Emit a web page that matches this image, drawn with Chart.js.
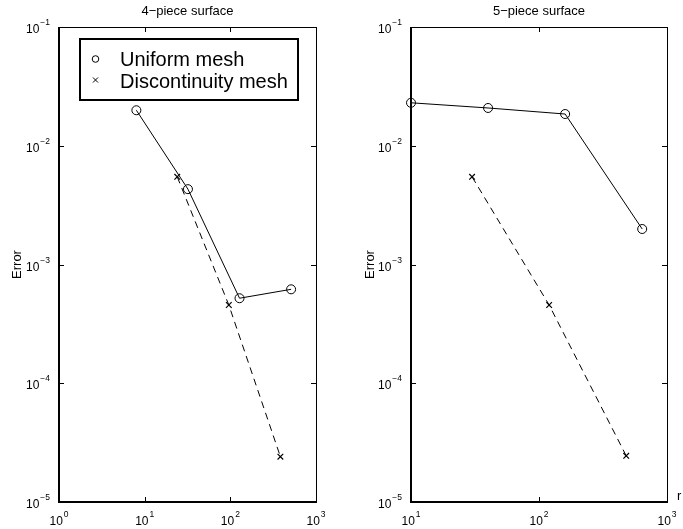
<!DOCTYPE html>
<html>
<head>
<meta charset="utf-8">
<script src="https://cdn.jsdelivr.net/npm/chart.js@4/dist/chart.umd.min.js"></script>
<style>
  body { margin: 0; background: #fff; }
  #wrap { position: relative; width: 683px; height: 529px; }
  canvas { position: absolute; top: 0; }
</style>
</head>
<body>
<div id="wrap">
  <canvas id="left" width="340" height="529" style="left:0"></canvas>
  <canvas id="right" width="343" height="529" style="left:340px"></canvas>
</div>
<script>
// Data
const leftTitle = '4\u2212piece surface';
const rightTitle = '5\u2212piece surface';
const seriesNames = ['Uniform mesh', 'Discontinuity mesh'];

const leftUniformX = [8, 32, 128, 512];
const leftUniformY = [0.0199, 0.00431, 0.00052, 0.000618];
const leftDiscX = [24, 96, 384];
const leftDiscY = [0.00547, 0.000456, 0.0000241];

const rightUniformX = [10, 40, 160, 640];
const rightUniformY = [0.0230, 0.0208, 0.0185, 0.00199];
const rightDiscX = [30, 120, 480];
const rightDiscY = [0.00547, 0.000456, 0.0000245];

const leftXTicks = [1, 10, 100, 1000];
const rightXTicks = [10, 100, 1000];
const yTicks = [1e-5, 1e-4, 1e-3, 1e-2, 1e-1];

const FONT = '"Liberation Sans", Arial, Helvetica, sans-serif';

function toPoints(xs, ys) {
  return xs.map((x, i) => ({ x: x, y: ys[i] }));
}

// draw "10" with a raised exponent
function powLabel(ctx, exp, x, y, mode) {
  const base = '10';
  const sup = exp < 0 ? '\u2212' + Math.abs(exp) : String(exp);
  ctx.font = '12px ' + FONT;
  const wb = ctx.measureText(base).width;
  ctx.font = '8.5px ' + FONT;
  const ws = ctx.measureText(sup).width;
  let x0;
  if (mode === 'right') x0 = x - wb - ws - 1;
  else x0 = x - (wb + ws + 1) / 2;
  ctx.textAlign = 'left';
  ctx.textBaseline = 'alphabetic';
  ctx.font = '12px ' + FONT;
  ctx.fillText(base, x0, y);
  ctx.font = '8.5px ' + FONT;
  ctx.fillText(sup, x0 + wb + 1, y - 8);
}

// MATLAB-like axes box, inward ticks and labels
const frame = {
  id: 'frame',
  afterDraw(chart, args, opts) {
    const ctx = chart.ctx;
    const a = chart.chartArea;
    const xs = chart.scales.x;
    const ys = chart.scales.y;
    ctx.save();
    ctx.strokeStyle = '#000';
    ctx.fillStyle = '#000';

    // ticks
    ctx.lineWidth = 1;
    ctx.beginPath();
    opts.xTicks.forEach(v => {
      const px = Math.round(xs.getPixelForValue(v)) + 0.5;
      ctx.moveTo(px, a.bottom); ctx.lineTo(px, a.bottom - 5);
      ctx.moveTo(px, a.top); ctx.lineTo(px, a.top + 5);
    });
    yTicks.forEach(v => {
      const py = Math.round(ys.getPixelForValue(v)) + 0.5;
      ctx.moveTo(a.left, py); ctx.lineTo(a.left + 5, py);
      ctx.moveTo(a.right, py); ctx.lineTo(a.right - 5, py);
    });
    ctx.stroke();

    // box
    ctx.beginPath();
    ctx.moveTo(a.left, a.top + 0.5); ctx.lineTo(a.right + 0.5, a.top + 0.5);
    ctx.lineTo(a.right + 0.5, a.bottom);
    ctx.stroke();
    ctx.lineWidth = 2;
    ctx.beginPath();
    ctx.moveTo(a.left, a.top); ctx.lineTo(a.left, a.bottom);
    ctx.lineTo(a.right + 1, a.bottom);
    ctx.stroke();

    // tick labels
    opts.xTicks.forEach(v => {
      powLabel(ctx, Math.round(Math.log10(v)), xs.getPixelForValue(v), a.bottom + 22.5, 'center');
    });
    yTicks.forEach(v => {
      powLabel(ctx, Math.round(Math.log10(v)), a.left - 9, ys.getPixelForValue(v) + 6, 'right');
    });

    // title
    ctx.font = '13px ' + FONT;
    ctx.textAlign = 'center';
    ctx.textBaseline = 'alphabetic';
    ctx.fillText(opts.title, (a.left + a.right) / 2, 15);

    // y axis label
    ctx.save();
    ctx.translate(opts.yLabelX, (a.top + a.bottom) / 2);
    ctx.rotate(-Math.PI / 2);
    ctx.font = '13px ' + FONT;
    ctx.textAlign = 'center';
    ctx.textBaseline = 'middle';
    ctx.fillText('Error', 0, 0);
    ctx.restore();

    // x axis label
    if (opts.xLabel) {
      ctx.font = '13px ' + FONT;
      ctx.textAlign = 'left';
      ctx.fillText(opts.xLabel, a.right + 10, a.bottom - 2);
    }

    // legend box
    if (opts.legend) {
      ctx.fillStyle = '#fff';
      ctx.fillRect(80, 39, 218, 61);
      ctx.fillStyle = '#000';
      ctx.lineWidth = 2;
      ctx.strokeRect(80, 39, 218, 61);
      ctx.lineWidth = 1;
      ctx.beginPath();
      ctx.arc(95.5, 59, 3.3, 0, Math.PI * 2);
      ctx.stroke();
      ctx.beginPath();
      ctx.moveTo(93, 77.5); ctx.lineTo(98, 82.5);
      ctx.moveTo(98, 77.5); ctx.lineTo(93, 82.5);
      ctx.stroke();
      ctx.font = '20px ' + FONT;
      ctx.textAlign = 'left';
      ctx.fillText(seriesNames[0], 120, 65.5);
      ctx.fillText(seriesNames[1], 120, 87.5);
    }
    ctx.restore();
  }
};

function makeChart(id, uniX, uniY, discX, discY, xMin, pad, frameOpts) {
  return new Chart(document.getElementById(id), {
    type: 'line',
    data: {
      datasets: [
        {
          label: seriesNames[0],
          data: toPoints(uniX, uniY),
          borderColor: '#000',
          borderWidth: 1,
          pointStyle: 'circle',
          pointRadius: 4.5,
          pointBorderWidth: 1,
          pointBorderColor: '#000',
          pointBackgroundColor: 'rgba(0,0,0,0)',
          tension: 0,
          clip: false
        },
        {
          label: seriesNames[1],
          data: toPoints(discX, discY),
          borderColor: '#000',
          borderWidth: 1,
          borderDash: [7, 5],
          pointStyle: 'crossRot',
          pointRadius: 4,
          pointBorderWidth: 1.2,
          pointBorderColor: '#000',
          tension: 0,
          clip: false
        }
      ]
    },
    options: {
      responsive: false,
      animation: false,
      events: [],
      layout: { padding: pad },
      scales: {
        x: { type: 'logarithmic', min: xMin, max: 1000, display: false },
        y: { type: 'logarithmic', min: 1e-5, max: 1e-1, display: false }
      },
      plugins: {
        legend: { display: false },
        tooltip: { enabled: false },
        frame: frameOpts
      }
    },
    plugins: [frame]
  });
}

makeChart('left', leftUniformX, leftUniformY, leftDiscX, leftDiscY, 1,
  { left: 59, right: 24, top: 27, bottom: 27 },
  { title: leftTitle, xTicks: leftXTicks, yLabelX: 17, legend: true });

makeChart('right', rightUniformX, rightUniformY, rightDiscX, rightDiscY, 10,
  { left: 71, right: 16, top: 27, bottom: 27 },
  { title: rightTitle, xTicks: rightXTicks, yLabelX: 30, xLabel: 'r' });
</script>
</body>
</html>
